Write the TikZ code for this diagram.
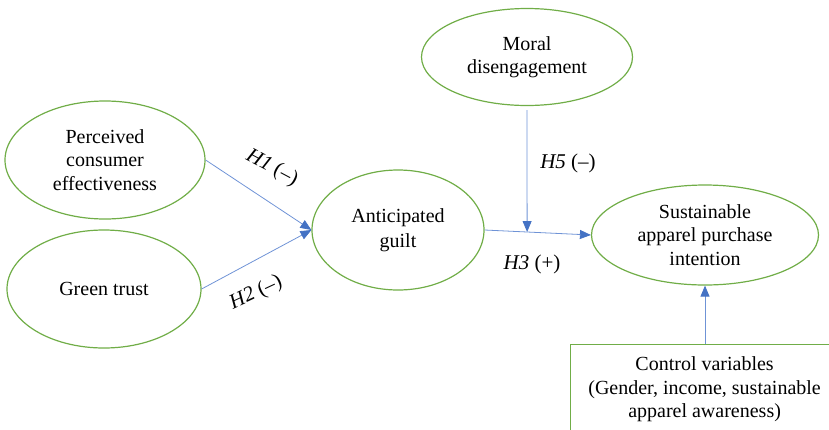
\documentclass[tikz,border=0pt]{standalone}
\usepackage{fontspec}
\setmainfont{Liberation Serif}
\usetikzlibrary{shapes.geometric,arrows.meta,calc}
\definecolor{ellgreen}{HTML}{70AD47}
\definecolor{linkblue}{HTML}{6F93D6}
\definecolor{tipblue}{HTML}{4472C4}
\begin{document}
\begin{tikzpicture}[x=1pt,y=-1pt,
  var/.style={ellipse,draw=ellgreen,line width=1.2pt,inner sep=0pt,align=center,
    font=\fontsize{20}{23.5}\selectfont},
  ctrlbox/.style={draw=ellgreen,line width=1.2pt,inner sep=0pt,align=center,
    anchor=north west,minimum width=268pt,minimum height=94pt,
    font=\fontsize{20}{23.5}\selectfont},
  arr/.style={draw=linkblue,line width=0.8pt,-{Triangle[length=11pt,width=9pt,color=tipblue]}},
  hlab/.style={font=\fontsize{21}{24}\selectfont,inner sep=0pt}
]
\useasboundingbox (0,0) rectangle (829,429);
\clip (0,0) rectangle (829,429);

\node[var,minimum width=200pt,minimum height=118pt] (pce) at (105,160) {Perceived\\consumer\\effectiveness};
\node[var,minimum width=194pt,minimum height=118pt] (gt) at (104,289) {Green trust};
\node[var,minimum width=172pt,minimum height=120pt] (ag) at (398,230) {Anticipated\\[2pt]guilt};
\node[var,minimum width=211pt,minimum height=97pt] (md) at (527,57) {Moral\\disengagement};
\node[var,minimum width=227pt,minimum height=100pt] (sapi) at (705,235) {Sustainable\\apparel purchase\\intention};
\node[ctrlbox] (ctrl) at (570,344) {\rule{0pt}{0pt}\\[-14pt]Control variables\\(Gender, income, sustainable\\apparel awareness)};

\draw[arr] (pce.east) -- (ag.west);
\draw[arr] (gt.east) -- (ag.west);
\draw[arr] (ag.east) -- (sapi.west) coordinate[pos=0.4] (mid);
\draw[arr] ([yshift=-4pt]md.south) -- (mid);
\draw[arr] (ctrl.north -| sapi.south) -- (sapi.south);

\node[hlab,rotate=-28] (h1) at (272,168) {\textit{H1} (–)};
\node[hlab,rotate=25] (h2) at (256,293) {\textit{H2} (–)};
\node[hlab] (h5) at (568,163) {\textit{H5} (–)};
\node[hlab] (h3) at (532,264) {\textit{H3} (+)};
\end{tikzpicture}
\end{document}
